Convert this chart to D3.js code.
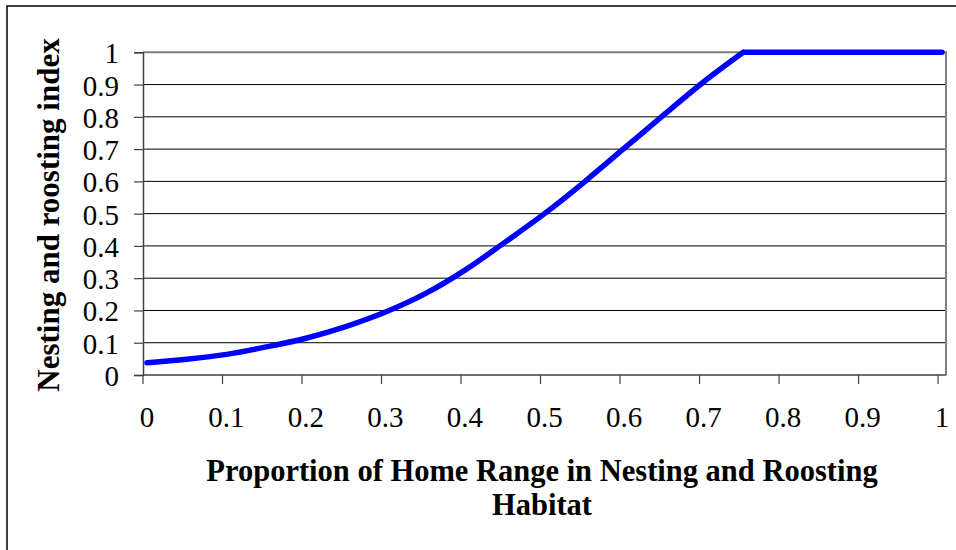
<!DOCTYPE html>
<html>
<head>
<meta charset="utf-8">
<script src="https://cdn.jsdelivr.net/npm/d3@7"></script>
<style>
  html, body { margin: 0; padding: 0; background: #fff; }
  svg { display: block; }
  text { font-family: "Liberation Serif", "Times New Roman", serif; fill: #000; }
</style>
</head>
<body>
<script>
// Proportion of home range in nesting/roosting habitat (x) and the resulting index (y)
const risingX = [0, 0.05, 0.10, 0.15, 0.20, 0.25, 0.30, 0.35, 0.40, 0.45, 0.50, 0.55, 0.60, 0.65, 0.70, 0.75];
const risingY = [0.038, 0.049, 0.064, 0.087, 0.114, 0.150, 0.195, 0.252, 0.325, 0.411, 0.500, 0.598, 0.702, 0.806, 0.908, 1.000];
const plateauX = [0.75, 0.80, 0.85, 0.90, 0.95, 1.00];
const plateauY = [1, 1, 1, 1, 1, 1];

const xTickLabels = ["0", "0.1", "0.2", "0.3", "0.4", "0.5", "0.6", "0.7", "0.8", "0.9", "1"];
const yTickLabels = ["0", "0.1", "0.2", "0.3", "0.4", "0.5", "0.6", "0.7", "0.8", "0.9", "1"];
const xTitleLines = ["Proportion of Home Range in Nesting and Roosting", "Habitat"];
const yTitle = "Nesting and roosting index";

const W = 956, H = 550;
const plot = { left: 143, right: 946, top: 52.3, bottom: 375 };
// categories run 0..1 by 0.01; each sits in the middle of its own slot
const half = 0.005;

const svg = d3.select("body").append("svg").attr("width", W).attr("height", H);

// outer chart frame
svg.append("rect")
  .attr("x", 7).attr("y", 6).attr("width", 980).attr("height", 600)
  .attr("fill", "none").attr("stroke", "#000").attr("stroke-width", 1.5);

const x = d3.scaleLinear().domain([-half, 1 + half]).range([plot.left, plot.right]);
const y = d3.scaleLinear().domain([0, 1]).range([plot.bottom, plot.top]);

const xVals = xTickLabels.map(Number);
const yVals = yTickLabels.map(Number);

// horizontal gridlines
svg.append("g").selectAll("line")
  .data(yVals.filter(v => v > 0 && v < 1))
  .join("line")
  .attr("x1", plot.left).attr("x2", plot.right)
  .attr("y1", d => y(d)).attr("y2", d => y(d))
  .attr("stroke", "#000").attr("stroke-width", 1);

// plot area border (top and right)
svg.append("path")
  .attr("d", `M${plot.left},${y(1)}H${plot.right}V${plot.bottom}`)
  .attr("fill", "none").attr("stroke", "#808080").attr("stroke-width", 2);

// y axis
const yAxis = d3.axisLeft(y).tickValues(yVals).tickSize(9).tickFormat("");
const gy = svg.append("g").attr("transform", `translate(${plot.left},0)`).call(yAxis);
gy.select(".domain").attr("stroke", "#404040").attr("stroke-width", 1.5);
gy.selectAll(".tick line").attr("stroke", "#404040").attr("stroke-width", 1.2);

svg.append("g").selectAll("text")
  .data(yTickLabels)
  .join("text")
  .attr("x", 119)
  .attr("y", (d, i) => y(yVals[i]) + 1)
  .attr("text-anchor", "end")
  .attr("dominant-baseline", "central")
  .attr("font-size", 29)
  .text(d => d);

// x axis: tick marks on slot boundaries, labels on category centres
svg.append("line")
  .attr("x1", plot.left).attr("x2", plot.right)
  .attr("y1", plot.bottom).attr("y2", plot.bottom)
  .attr("stroke", "#404040").attr("stroke-width", 1.5);

svg.append("g").selectAll("line")
  .data(xVals)
  .join("line")
  .attr("x1", d => x(d - half)).attr("x2", d => x(d - half))
  .attr("y1", plot.bottom).attr("y2", plot.bottom + 9)
  .attr("stroke", "#404040").attr("stroke-width", 1.2);

svg.append("g").selectAll("text")
  .data(xTickLabels)
  .join("text")
  .attr("x", (d, i) => x(xVals[i]))
  .attr("y", 427)
  .attr("text-anchor", "middle")
  .attr("font-size", 29)
  .text(d => d);

// index curve
const rising = risingX.map((v, i) => [v, risingY[i]]);
const plateau = plateauX.map((v, i) => [v, plateauY[i]]);

const smooth = d3.line().x(d => x(d[0])).y(d => y(d[1])).curve(d3.curveMonotoneX);
const straight = d3.line().x(d => x(d[0])).y(d => y(d[1]));

[[rising, smooth], [plateau, straight]].forEach(([data, gen]) => {
  svg.append("path")
    .attr("d", gen(data))
    .attr("fill", "none")
    .attr("stroke", "#0000ff")
    .attr("stroke-width", 5.5)
    .attr("stroke-linejoin", "round")
    .attr("stroke-linecap", "round");
});

// axis titles
const xt = svg.append("text")
  .attr("text-anchor", "middle")
  .attr("font-weight", "bold")
  .attr("font-size", 30.5);
xTitleLines.forEach((line, i) => {
  xt.append("tspan").attr("x", 542).attr("y", 481 + i * 34).text(line);
});

svg.append("text")
  .attr("transform", `translate(59,215) rotate(-90)`)
  .attr("text-anchor", "middle")
  .attr("font-weight", "bold")
  .attr("font-size", 31)
  .text(yTitle);
</script>
</body>
</html>
